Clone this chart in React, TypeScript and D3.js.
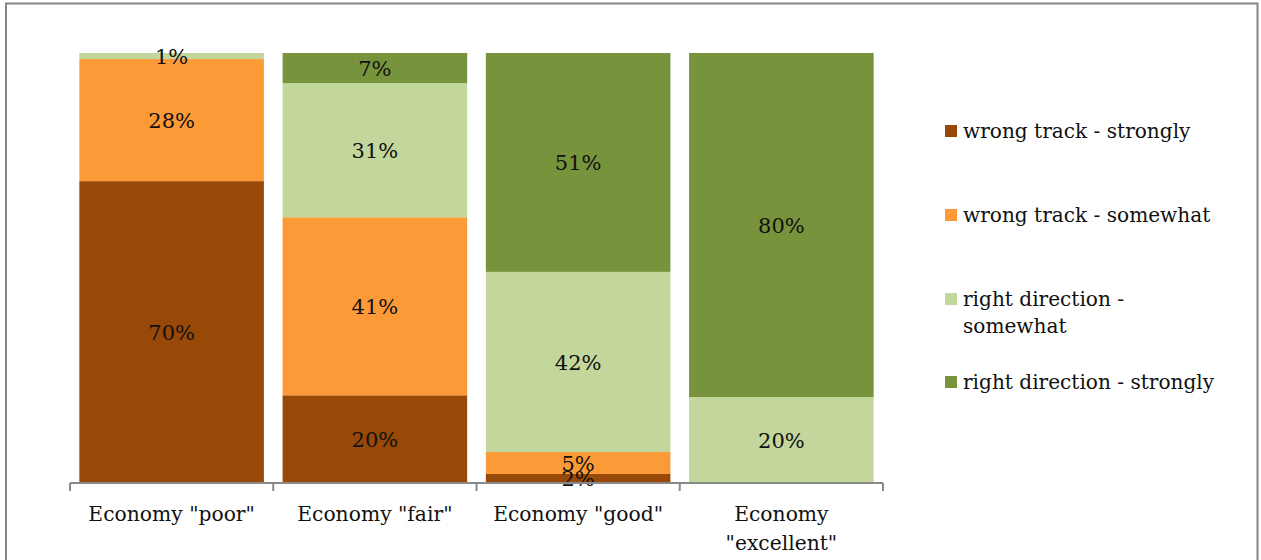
import React, { useEffect, useRef } from 'react';
import * as d3 from 'd3';

const categories = ['Economy "poor"', 'Economy "fair"', 'Economy "good"', 'Economy "excellent"'];
const seriesNames = ['wrong track - strongly', 'wrong track - somewhat', 'right direction - somewhat', 'right direction - strongly'];
const wrongStrongly = [70.2, 20.4, 2.1, 0];
const wrongSomewhat = [28.4, 41.4, 5.1, 0];
const rightSomewhat = [1.4, 31.2, 41.9, 20];
const rightStrongly = [0, 7.0, 50.9, 80];
const colors = ['#984807', '#FD9A38', '#C3D69B', '#77933C'];

const FONT = '"DejaVu Serif", serif';

export default function App() {
  const svgRef = useRef<SVGSVGElement>(null);

  useEffect(() => {
    if (!svgRef.current) return;
    const svg = d3.select(svgRef.current);
    svg.selectAll('*').remove();

    // frame: left, top, right edges (bottom is below the page)
    svg
      .append('path')
      .attr('d', 'M6,560V3.5H1257.5V560')
      .attr('fill', 'none')
      .attr('stroke', '#868686')
      .attr('stroke-width', 2);

    const series = [wrongStrongly, wrongSomewhat, rightSomewhat, rightStrongly];
    const rows = categories.map((c, i) => {
      const r: any = { cat: c };
      seriesNames.forEach((s, j) => (r[s] = series[j][i]));
      return r;
    });
    const stacked = d3.stack().keys(seriesNames)(rows);

    const x = d3.scaleBand().domain(categories).range([70, 883]).padding(0);
    const y = d3.scaleLinear().domain([0, 100]).range([483, 53]);
    const inset = x.bandwidth() * 0.046;
    const barW = x.bandwidth() - 2 * inset;

    const g = svg.append('g');
    stacked.forEach((layer, j) => {
      g.append('g')
        .selectAll('rect')
        .data(layer.filter((d) => d[1] - d[0] > 0))
        .enter()
        .append('rect')
        .attr('x', (d) => (x(d.data.cat as string) as number) + inset)
        .attr('y', (d) => y(d[1]))
        .attr('width', barW)
        .attr('height', (d) => y(d[0]) - y(d[1]))
        .attr('fill', colors[j]);
    });
    stacked.forEach((layer) => {
      g.append('g')
        .selectAll('text')
        .data(layer.filter((d) => d[1] - d[0] > 0))
        .enter()
        .append('text')
        .attr('x', (d) => (x(d.data.cat as string) as number) + x.bandwidth() / 2)
        .attr('y', (d) => (y(d[0]) + y(d[1])) / 2)
        .attr('dy', '0.36em')
        .attr('text-anchor', 'middle')
        .style('font-family', FONT)
        .style('font-size', '21px')
        .style('fill', '#111')
        .text((d) => Math.round(d[1] - d[0]) + '%');
    });

    // category axis with ticks between bars
    const ax = svg.append('g').attr('stroke', '#898989').attr('stroke-width', 2);
    ax.append('line').attr('x1', 70).attr('x2', 883).attr('y1', 483).attr('y2', 483);
    const edges = categories.map((c) => x(c) as number).concat([x.range()[1]]);
    ax.selectAll('.tick')
      .data(edges)
      .enter()
      .append('line')
      .attr('x1', (d) => d)
      .attr('x2', (d) => d)
      .attr('y1', 483)
      .attr('y2', 491);

    categories.forEach((c) => {
      const cx = (x(c) as number) + x.bandwidth() / 2;
      const t = svg
        .append('text')
        .attr('text-anchor', 'middle')
        .style('font-family', FONT)
        .style('font-size', '20.3px')
        .style('fill', '#111');
      if (c.includes('excellent')) {
        t.append('tspan').attr('x', cx).attr('y', 521).text('Economy');
        t.append('tspan').attr('x', cx).attr('y', 550).text('"excellent"');
      } else {
        t.attr('x', cx).attr('y', 521).text(c);
      }
    });

    // legend
    const legY = [131, 215, 299, 382];
    seriesNames.forEach((s, j) => {
      svg
        .append('rect')
        .attr('x', 945)
        .attr('y', legY[j] - 6)
        .attr('width', 12)
        .attr('height', 12)
        .attr('fill', colors[j]);
      const t = svg
        .append('text')
        .attr('x', 963)
        .attr('y', legY[j])
        .attr('dy', '0.36em')
        .style('font-family', FONT)
        .style('font-size', '20.1px')
        .style('fill', '#111');
      if (s === 'right direction - somewhat') {
        t.append('tspan').attr('x', 963).text('right direction -');
        t.append('tspan').attr('x', 963).attr('dy', '27').text('somewhat');
      } else {
        t.text(s);
      }
    });
  }, []);

  return (
    <div style={{ position: 'absolute', left: 0, top: 0, width: 1261, height: 560, background: 'white' }}>
      <svg ref={svgRef} width={1261} height={560} style={{ display: 'block' }}></svg>
    </div>
  );
}
